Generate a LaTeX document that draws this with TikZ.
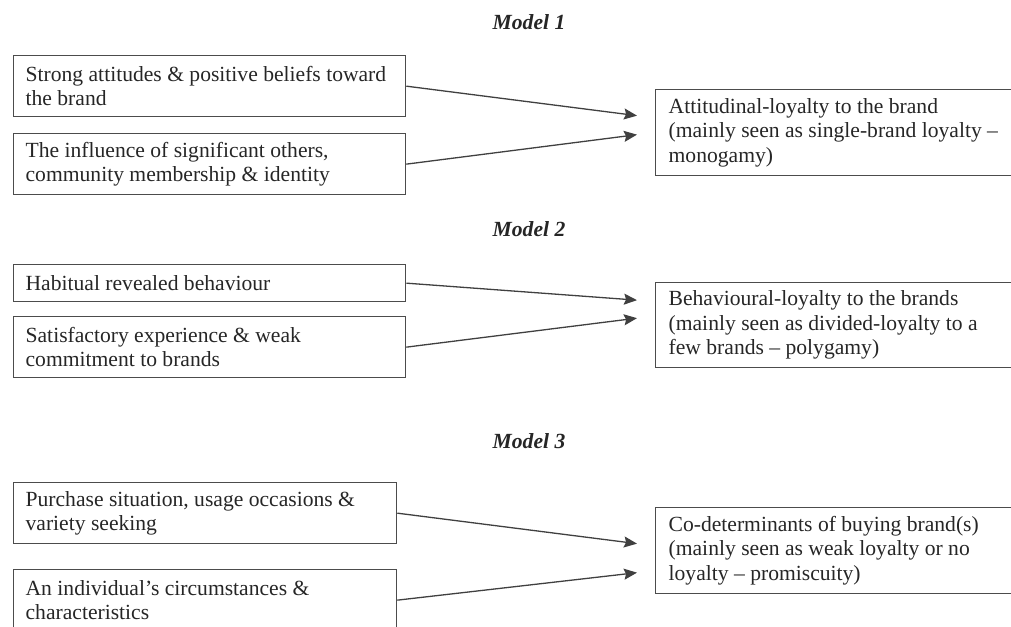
\documentclass[tikz,border=0pt]{standalone}
\usepackage{fontspec}
\setmainfont{Liberation Serif}
\usetikzlibrary{arrows.meta}
\tikzset{>={Stealth[length=13pt,width=11pt,inset=2pt]}}
\tikzset{
  box/.style={draw=black!70, line width=1.3pt, text=black!85, anchor=north west,
    inner xsep=12pt, inner ysep=0pt, align=flush left, font=\fontsize{21.6}{24.5}\selectfont},
  title/.style={text=black!85, font=\fontsize{21.6}{24}\selectfont\bfseries\itshape},
  link/.style={->, draw=black!75, line width=1.3pt}
}

\begin{document}
\begin{tikzpicture}[x=1pt,y=-1pt]
\useasboundingbox (0,0) rectangle (1011,626);

% Model 1
\node[title] (t1) at (529,22) {Model 1};
\node[box, text width=368pt, minimum height=61pt] (m1a) at (13,55) {Strong attitudes \& positive beliefs toward\\the brand};
\node[box, text width=368pt, minimum height=61pt] (m1b) at (13,133) {The influence of significant others,\\community membership \& identity};
\node[box, text width=354pt, inner xsep=13pt, minimum height=86pt] (m1t) at (655,89) {Attitudinal-loyalty to the brand\\(mainly seen as single-brand loyalty –\\monogamy)};

\draw[link] (m1a.east) -- ([xshift=-18pt,yshift=17pt]m1t.west);
\draw[link] (m1b.east) -- ([xshift=-18pt,yshift=-2pt]m1t.west);

% Model 2
\node[title] (t2) at (529,229) {Model 2};
\node[box, text width=368pt, minimum height=37pt] (m2a) at (13,264) {Habitual revealed behaviour};
\node[box, text width=368pt, minimum height=61pt] (m2b) at (13,316) {Satisfactory experience \& weak\\commitment to brands};
\node[box, text width=354pt, inner xsep=13pt, minimum height=85pt] (m2t) at (655,282) {Behavioural-loyalty to the brands\\(mainly seen as divided-loyalty to a\\few brands – polygamy)};

\draw[link] (m2a.east) -- ([xshift=-18pt,yshift=25pt]m2t.west);
\draw[link] (m2b.east) -- ([xshift=-18pt,yshift=7pt]m2t.west);

% Model 3
\node[title] (t3) at (529,441) {Model 3};
\node[box, text width=359pt, minimum height=61pt] (m3a) at (13,482) {Purchase situation, usage occasions \&\\variety seeking};
\node[box, text width=359pt, minimum height=61pt] (m3b) at (13,569) {An individual's circumstances \&\\characteristics};
\node[box, text width=354pt, inner xsep=13pt, minimum height=86pt] (m3t) at (655,507) {Co-determinants of buying brand(s)\\(mainly seen as weak loyalty or no\\loyalty – promiscuity)};

\draw[link] (m3a.east) -- ([xshift=-18pt,yshift=7pt]m3t.west);
\draw[link] (m3b.east) -- ([xshift=-18pt,yshift=-22pt]m3t.west);
\end{tikzpicture}
\end{document}
